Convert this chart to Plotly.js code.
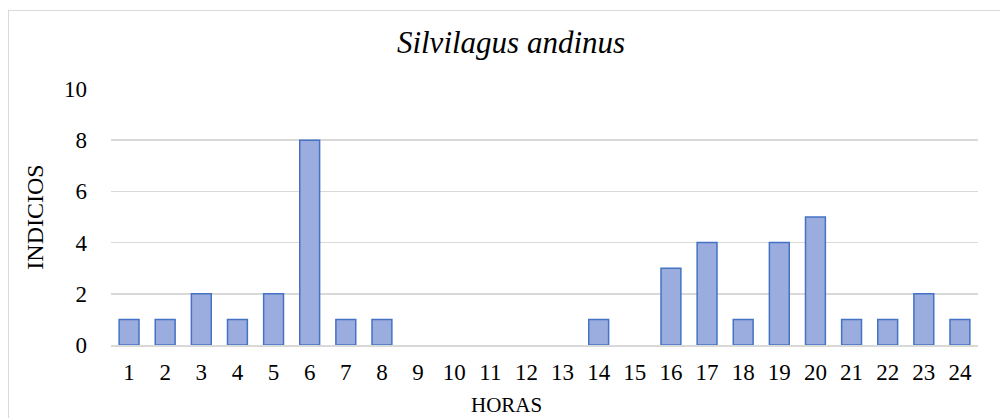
<!DOCTYPE html>
<html><head><meta charset="utf-8">
<script src="https://cdn.plot.ly/plotly-3.0.1.min.js"></script>
<style>
html,body{margin:0;padding:0;background:#fff;}
#wrap{position:absolute;left:0;top:0;width:1000px;height:418px;}
#frame{position:absolute;left:8px;top:10px;width:1100px;height:500px;border:1.5px solid #d9d9d9;}
#chart{position:absolute;left:0;top:0;width:1000px;height:418px;}
</style></head>
<body><div id="wrap"><div id="frame"></div><div id="chart"></div></div>
<script>
const horas = ['1','2','3','4','5','6','7','8','9','10','11','12','13','14','15','16','17','18','19','20','21','22','23','24'];
const indicios = [1,1,2,1,2,8,1,1,0,0,0,0,0,1,0,3,4,1,4,5,1,1,2,1];
const yTicks = [0,2,4,6,8,10];

const serif = 'Liberation Serif';
Plotly.newPlot('chart', [{
  type:'bar', x:horas, y:indicios,
  marker:{color:'#9badde', line:{color:'#4472c4', width:indicios.map(v => v > 0 ? 1.5 : 0)}},
  hoverinfo:'none'
}], {
  width:1000, height:418,
  paper_bgcolor:'rgba(0,0,0,0)', plot_bgcolor:'rgba(0,0,0,0)',
  margin:{l:111, r:22, t:89, b:73},
  bargap:0.45,
  showlegend:false,
  font:{family:serif, color:'#000'},
  title:{text:'Silvilagus andinus', font:{family:serif, size:31, style:'italic', color:'#000'}, x:0.511, xanchor:'center', y:0.9, yanchor:'middle', yref:'container'},
  xaxis:{type:'category', tickfont:{family:serif, size:23, color:'#000'}, showgrid:false, showline:true, linecolor:'#d9d9d9', linewidth:1.5, ticks:'', ticklabelstandoff:6},
  yaxis:{range:[0,10], tickvals:yTicks, tickfont:{family:serif, size:23, color:'#000'}, showgrid:true, gridcolor:'#d9d9d9', gridwidth:1.5, zeroline:false, showline:false, ticks:'', ticklabelstandoff:23,
    title:{text:'INDICIOS', font:{family:serif, size:24, color:'#000'}, standoff:13}},
  annotations:[{text:'HORAS', xref:'paper', yref:'paper', x:0.4556, y:-0.235, xanchor:'center', yanchor:'middle', showarrow:false, font:{family:serif, size:21, color:'#000'}}]
}, {staticPlot:true});
</script></body></html>
